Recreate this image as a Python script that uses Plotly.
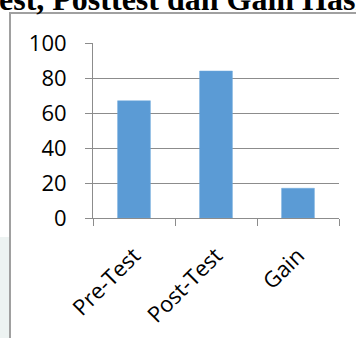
import plotly.graph_objects as go

categories = ["Pre-Test", "Post-Test", "Gain"]
values = [67, 84, 17]
y_ticks = [0, 20, 40, 60, 80, 100]
title_text = "est, Posttest dan Gain Hasi"

W, H = 356, 338
L, R, T, B = 93, 17, 43, 120
pw, ph = W - L - R, H - T - B

def px_x(x):
    return (x - L) / pw

def px_y(y):
    return (H - B - y) / ph

fig = go.Figure(go.Bar(
    x=categories, y=values,
    marker=dict(color="#5b9bd5", line=dict(color="#6fa8dc", width=0.5)),
    width=0.4,
))

fig.update_layout(
    width=W, height=H,
    margin=dict(l=L, r=R, t=T, b=B, pad=0),
    paper_bgcolor="white", plot_bgcolor="white",
    showlegend=False,
    font=dict(family="Open Sans", color="black", size=22),
    xaxis=dict(
        type="category", tickson="boundaries", ticks="outside", ticklen=7,
        tickcolor="#8c8c8c", showline=True, linecolor="#8c8c8c", linewidth=1,
        tickangle=-45, tickfont=dict(size=22, family="Open Sans"),
        ticklabelstandoff=15, automargin=False,
        showgrid=False, range=[-0.5, 2.5],
    ),
    yaxis=dict(
        range=[0, 100], tickvals=y_ticks, ticks="outside", ticklen=7,
        tickcolor="#8c8c8c", showline=True, linecolor="#8c8c8c", linewidth=1,
        showgrid=True, gridcolor="#8c8c8c", gridwidth=1,
        tickfont=dict(size=22, family="Open Sans"), ticklabelstandoff=14,
        zeroline=False, automargin=False,
    ),
    shapes=[
        dict(type="rect", xref="paper", yref="paper",
             x0=px_x(0), x1=px_x(9), y0=px_y(340), y1=px_y(237),
             fillcolor="#edf3f2", line=dict(width=0), layer="below"),
        dict(type="rect", xref="paper", yref="paper",
             x0=px_x(10), x1=px_x(400), y0=px_y(400), y1=px_y(13),
             fillcolor="rgba(0,0,0,0)", line=dict(color="#a0a0a0", width=2), layer="below"),
    ],
    annotations=[
        dict(text=title_text, xref="paper", yref="paper",
             x=px_x(-3), y=px_y(-1), xanchor="left", yanchor="middle",
             showarrow=False,
             font=dict(family="Liberation Serif", size=32, color="black", weight="bold")),
    ],
)

fig.write_html("out.html")
